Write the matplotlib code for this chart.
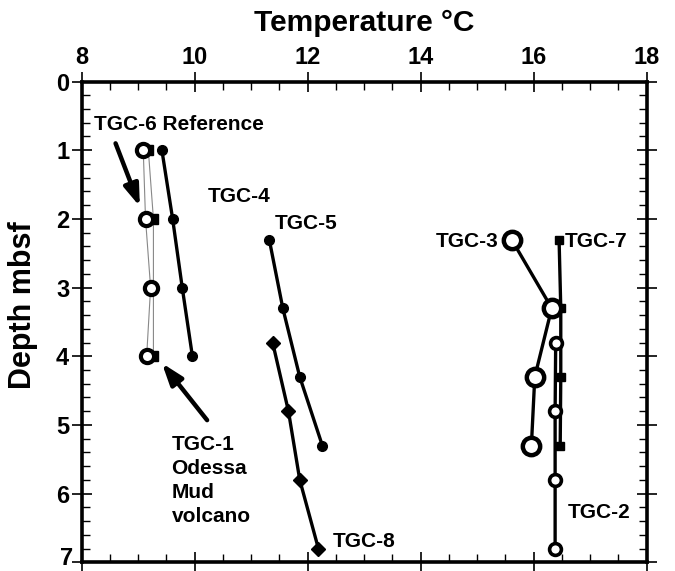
import matplotlib
matplotlib.use("Agg")
import matplotlib.pyplot as plt
from matplotlib.ticker import MultipleLocator, FuncFormatter

plt.rcParams['font.family'] = ['Liberation Sans', 'DejaVu Sans']
plt.rcParams['font.weight'] = 'bold'

# Data (temperature °C, depth mbsf)
tgc6_T = [9.09, 9.13, 9.22, 9.15]
tgc6_D = [1.0, 2.0, 3.0, 4.0]
tgc1_T = [9.18, 9.27, 9.27]
tgc1_D = [1.0, 2.0, 4.0]
tgc4_T = [9.42, 9.61, 9.78, 9.96]
tgc4_D = [1.0, 2.0, 3.0, 4.0]
tgc5_T = [11.32, 11.56, 11.86, 12.26]
tgc5_D = [2.3, 3.3, 4.3, 5.3]
tgc8_T = [11.38, 11.66, 11.86, 12.19]
tgc8_D = [3.8, 4.8, 5.8, 6.8]
tgc3_T = [15.61, 16.32, 16.02, 15.96]
tgc3_D = [2.3, 3.3, 4.3, 5.3]
tgc7_T = [16.45, 16.48, 16.48, 16.47]
tgc7_D = [2.3, 3.3, 4.3, 5.3]
tgc2_T = [16.39, 16.38, 16.38, 16.38]
tgc2_D = [3.8, 4.8, 5.8, 6.8]

fig = plt.figure(figsize=(6.75, 5.71), dpi=100)
ax = fig.add_axes([0.121, 0.0152, 0.837, 0.842])

lw = 2.4
# thin lines for reference cores
ax.plot(tgc1_T, tgc1_D, '-', color='#888888', lw=0.8, zorder=2)
ax.plot(tgc1_T, tgc1_D, 's', color='black', ms=6.5, zorder=3, lw=0)
ax.plot(tgc6_T, tgc6_D, '-', color='#888888', lw=0.8, zorder=2)
ax.plot(tgc6_T, tgc6_D, 'o', mfc='white', mec='black', mew=3, ms=9.5, zorder=4, lw=0)

ax.plot(tgc4_T, tgc4_D, 'o-', color='black', lw=lw, ms=7, zorder=3)
ax.plot(tgc5_T, tgc5_D, 'o-', color='black', lw=lw, ms=7, zorder=3)
ax.plot(tgc8_T, tgc8_D, 'D-', color='black', lw=lw, ms=7, zorder=3)
ax.plot(tgc7_T, tgc7_D, 's-', color='black', lw=lw, ms=6, zorder=3)
ax.plot(tgc2_T, tgc2_D, 'o-', color='black', lw=lw, ms=8.5, mfc='white', mec='black', mew=2.6, zorder=4)
ax.plot(tgc3_T, tgc3_D, 'o-', color='black', lw=lw, ms=12.5, mfc='white', mec='black', mew=3.2, zorder=5)

ax.set_xlim(8, 18)
ax.set_ylim(7, 0)
ax.xaxis.set_ticks_position('top')
ax.xaxis.set_label_position('top')
ax.xaxis.set_major_locator(MultipleLocator(2))
ax.xaxis.set_minor_locator(MultipleLocator(0.5))
ax.yaxis.set_major_locator(MultipleLocator(1))
ax.yaxis.set_minor_locator(MultipleLocator(0.2))
# the bottom label ("7") is drawn separately, nudged up so it is not clipped
ax.yaxis.set_major_formatter(FuncFormatter(lambda v, p: '' if round(v) == 7 else f'{v:.0f}'))
ax.tick_params(axis='x', which='both', top=True, bottom=True)
ax.tick_params(axis='y', which='both', left=True, right=True)
ax.tick_params(which='major', direction='inout', length=14, width=1.2, labelsize=17, pad=2)
ax.tick_params(which='minor', direction='in', length=6, width=1.0)
for s in ax.spines.values():
    s.set_linewidth(2.6)

ax.set_xlabel('Temperature °C', fontsize=21.5, fontweight='bold', labelpad=11)
ax.set_ylabel('Depth mbsf', fontsize=22, fontweight='bold', labelpad=2)
ax.yaxis.set_label_coords(-0.077, 0.535)

for lab in ax.get_xticklabels() + ax.get_yticklabels():
    lab.set_fontweight('bold')
for lab in ax.get_yticklabels():
    lab.set_verticalalignment('center_baseline')

ax.annotate('7', xy=(0, 7), xycoords=('axes fraction', 'data'), xytext=(-6.5, 4.5),
            textcoords='offset points', ha='right', va='center_baseline',
            fontsize=17, fontweight='bold', annotation_clip=False)

fs = 15
ax.text(8.22, 0.63, 'TGC-6 Reference', fontsize=fs, fontweight='bold', va='center', ha='left')
ax.text(10.24, 1.68, 'TGC-4', fontsize=fs, fontweight='bold', va='center', ha='left')
ax.text(11.42, 2.06, 'TGC-5', fontsize=fs, fontweight='bold', va='center', ha='left')
ax.text(15.37, 2.33, 'TGC-3', fontsize=fs, fontweight='bold', va='center', ha='right')
ax.text(16.55, 2.33, 'TGC-7', fontsize=fs, fontweight='bold', va='center', ha='left')
ax.text(9.59, 5.15, 'TGC-1\nOdessa\nMud\nvolcano', fontsize=fs, fontweight='bold',
        va='top', ha='left', linespacing=1.32)
ax.text(12.45, 6.69, 'TGC-8', fontsize=fs, fontweight='bold', va='center', ha='left')
ax.text(16.6, 6.28, 'TGC-2', fontsize=fs, fontweight='bold', va='center', ha='left')

aprops = dict(arrowstyle='-|>,head_length=1.3,head_width=0.45', lw=3.2, color='black',
              shrinkA=0, shrinkB=0)
ax.annotate('', xy=(9.03, 1.82), xytext=(8.6, 0.9), arrowprops=aprops)
ax.annotate('', xy=(9.42, 4.10), xytext=(10.22, 4.93), arrowprops=aprops)

fig.savefig('out.png', dpi=100)
